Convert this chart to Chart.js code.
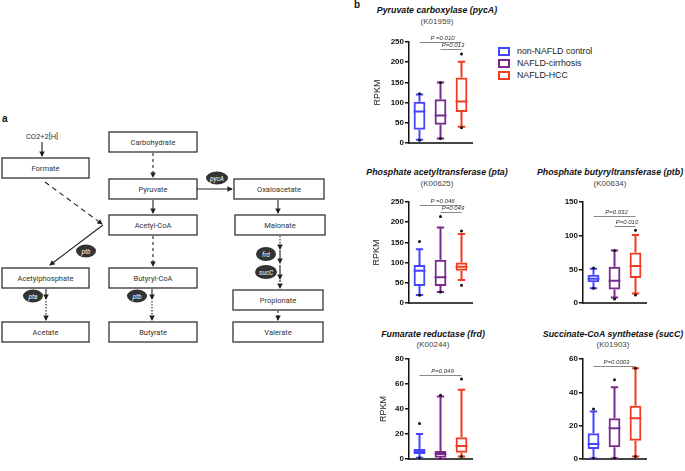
<!DOCTYPE html>
<html><head><meta charset="utf-8">
<script src="https://cdn.jsdelivr.net/npm/chart.js@4.4.1/dist/chart.umd.min.js"></script>
<style>
html,body{margin:0;padding:0}
body{width:685px;height:471px;background:#fff;position:relative;overflow:hidden;font-family:"Liberation Sans",Arial,sans-serif}
canvas{position:absolute}
.ttl{position:absolute;width:220px;text-align:center;font-size:8.8px;font-weight:bold;font-style:italic;color:#111;white-space:nowrap;line-height:10px}
.ko{position:absolute;width:220px;text-align:center;font-size:8px;color:#444;white-space:nowrap;line-height:10px}
.lg{position:absolute;left:498px;font-size:8.8px;color:#222;white-space:nowrap;line-height:10px}
.lg span.b{position:absolute;left:0;top:0;width:8px;height:5px;border:2px solid}
.lg span.t{position:absolute;left:19px;top:-1px}
.pl{position:absolute;font-weight:bold;font-size:10px;color:#111}
</style>
</head><body>

<svg width="345" height="471" style="position:absolute;left:0;top:0" font-family="Roboto, 'Liberation Sans', sans-serif">
<defs>
<marker id="ah" viewBox="0 0 6 6" refX="5" refY="3" markerWidth="5" markerHeight="5" orient="auto"><path d="M0,0 L6,3 L0,6 z" fill="#222"/></marker>
</defs>
<g fill="#fff" stroke="#333" stroke-width="1.3">
<rect x="2" y="158" width="87" height="20"/>
<rect x="109" y="132" width="88" height="20"/>
<rect x="109" y="179" width="88" height="20"/>
<rect x="109" y="215" width="88" height="20"/>
<rect x="2" y="268" width="87" height="20"/>
<rect x="109" y="268" width="88" height="20"/>
<rect x="2" y="322" width="87" height="20"/>
<rect x="109" y="322" width="88" height="20"/>
<rect x="234" y="179" width="90" height="20"/>
<rect x="235" y="215" width="90" height="20"/>
<rect x="233" y="290" width="90" height="20"/>
<rect x="233" y="322" width="90" height="20"/>
</g>
<g font-size="7.5" fill="#333" text-anchor="middle">
<text x="45.5" y="171">Formate</text>
<text x="153" y="145">Carbohydrate</text>
<text x="153" y="192">Pyruvate</text>
<text x="153" y="228">Acetyl-CoA</text>
<text x="45.5" y="281">Acetylphosphate</text>
<text x="153" y="281">Butyryl-CoA</text>
<text x="45.5" y="335">Acetate</text>
<text x="153" y="335">Butyrate</text>
<text x="279" y="192">Oxaloacetate</text>
<text x="280" y="228">Malonate</text>
<text x="278" y="303">Propionate</text>
<text x="278" y="335">Valerate</text>
<text x="42" y="139">CO2+2[H]</text>
</g>
<g stroke="#222" stroke-width="1.1" fill="none" marker-end="url(#ah)">
<line x1="42" y1="142" x2="42" y2="156"/>
<line x1="153" y1="153" x2="153" y2="177" stroke-dasharray="3,3"/>
<line x1="153" y1="200" x2="153" y2="213"/>
<line x1="153" y1="236" x2="153" y2="266" stroke-dasharray="3,3"/>
<line x1="45" y1="182" x2="102" y2="224" stroke-dasharray="5,4"/>
<line x1="103" y1="225" x2="50" y2="265"/>
<line x1="46" y1="289" x2="46" y2="299"/>
<line x1="46" y1="301" x2="46" y2="320" stroke-dasharray="1.5,1.5"/>
<line x1="152" y1="289" x2="152" y2="299"/>
<line x1="152" y1="301" x2="152" y2="320" stroke-dasharray="1.5,1.5"/>
<line x1="197" y1="189" x2="232" y2="189"/>
<line x1="278" y1="200" x2="278" y2="213"/>
<line x1="280" y1="236" x2="280" y2="249" stroke-dasharray="1.5,1.5"/>
<line x1="280" y1="250" x2="280" y2="263"/>
<line x1="280" y1="265" x2="280" y2="279"/>
<line x1="280" y1="280" x2="280" y2="288" stroke-dasharray="2,2"/>
<line x1="278" y1="311" x2="278" y2="320" stroke-dasharray="2,2"/>
</g>
<g fill="#333">
<ellipse cx="86" cy="251" rx="10" ry="6.5"/>
<ellipse cx="33" cy="296" rx="10" ry="6.5"/>
<ellipse cx="137" cy="296" rx="10" ry="6.5"/>
<ellipse cx="217" cy="178" rx="11" ry="6.5"/>
<ellipse cx="266" cy="254" rx="10" ry="7"/>
<ellipse cx="266" cy="272" rx="11" ry="7"/>
</g>
<g font-size="6.5" fill="#fff" font-style="italic" text-anchor="middle">
<text x="86" y="253.5">ptb</text>
<text x="33" y="298.5">pta</text>
<text x="137" y="298.5">ptb</text>
<text x="217" y="180.5">pycA</text>
<text x="266" y="256.5">frd</text>
<text x="266" y="274.5">sucC</text>
</g>
<line x1="346" y1="22" x2="346" y2="467" stroke="#bbb" stroke-width="1" stroke-dasharray="1,1"/>
</svg>
<div class="pl" style="left:2px;top:113px">a</div>
<div class="pl" style="left:354px;top:-1px">b</div>

<div class="ttl" style="left:327px;top:5px">Pyruvate carboxylase (pycA)</div>
<div class="ko" style="left:327px;top:17px">(K01959)</div>
<div class="ttl" style="left:327px;top:167px">Phosphate acetyltransferase (pta)</div>
<div class="ko" style="left:327px;top:179px">(K00625)</div>
<div class="ttl" style="left:500px;top:167px">Phosphate butyryltransferase (ptb)</div>
<div class="ko" style="left:500px;top:179px">(K00634)</div>
<div class="ttl" style="left:323px;top:329px">Fumarate reductase (frd)</div>
<div class="ko" style="left:323px;top:340px">(K00244)</div>
<div class="ttl" style="left:503px;top:329px">Succinate-CoA synthetase (sucC)</div>
<div class="ko" style="left:503px;top:340px">(K01903)</div>

<div class="lg" style="top:47px"><span class="b" style="border-color:#4545ff"></span><span class="t">non-NAFLD control</span></div>
<div class="lg" style="top:59px"><span class="b" style="border-color:#7a2a8e"></span><span class="t">NAFLD-cirrhosis</span></div>
<div class="lg" style="top:71px"><span class="b" style="border-color:#f03c22"></span><span class="t">NAFLD-HCC</span></div>

<canvas id="c1" width="116" height="128" style="left:360px;top:28px"></canvas>
<canvas id="c2" width="116" height="128" style="left:360px;top:188px"></canvas>
<canvas id="c3" width="116" height="128" style="left:534px;top:188px"></canvas>
<canvas id="c4" width="116" height="127" style="left:360px;top:345px"></canvas>
<canvas id="c5" width="116" height="127" style="left:534px;top:345px"></canvas>

<script>
// ---- data ----
const groups = ['non-NAFLD control', 'NAFLD-cirrhosis', 'NAFLD-HCC'];
const groupColors = ['#4545ff', '#7a2a8e', '#f03c22'];
// each group: [min whisker, Q1, median, Q3, max whisker]
const pycaBox = [[8, 33, 78, 102, 120], [11, 45, 68, 108, 150], [40, 77, 103, 162, 201]];
const pycaDots = [[122, 7], [150, 11], [220, 38]];
const pycaP = [[0, 2, 250, 'P =0.010'], [1, 2, 232, 'P=0.013']];
const ptaBox = [[20, 42, 80, 94, 133], [27, 42, 64, 107, 187], [57, 80, 90, 100, 171]];
const ptaDots = [[152, 19], [214, 27], [178, 44]];
const ptaP = [[0, 2, 243, 'P =0.046'], [1, 2, 225, 'P=0.049']];
const ptbBox = [[22, 31, 36, 42, 51], [8, 20, 33, 54, 78], [14, 37, 55, 75, 101]];
const ptbDots = [[52, 22], [78, 6], [108, 12]];
const ptbP = [[0, 2, 129, 'P=0.032'], [1, 2, 114, 'P=0.010']];
const frdBox = [[1, 4, 6, 8, 20], [0, 1, 4, 6.5, 50], [2, 5, 10.5, 17.5, 55.5]];
const frdDots = [[28.5, 1], [51, 0], [64, 2]];
const frdP = [[0, 2, 67, 'P=0.049']];
const succBox = [[0.5, 6, 9, 15.5, 28.5], [0.5, 7, 18.5, 24.5, 43], [1.5, 11, 24.5, 32, 54.5]];
const succDots = [[30, 0.5], [47.5, 0.5], [54.5, 1.5]];
const succP = [[0, 2, 56, 'P=0.0003']];
const yMaxes = {pyca: 250, pta: 250, ptb: 150, frd: 80, succ: 60};
const ySteps = {pyca: 50, pta: 50, ptb: 50, frd: 20, succ: 20};

// ---- plugin drawing whiskers, medians and P-value bars via scales ----
const boxPlugin = {
  id: 'boxExtras',
  beforeDatasetsDraw(chart) {
    const box = chart.options.plugins.boxExtras.box;
    const xs = chart.scales.x, ys = chart.scales.y, ctx = chart.ctx;
    const meta = chart.getDatasetMeta(0);
    ctx.save();
    ctx.lineWidth = 2;
    box.forEach((b, i) => {
      const x = xs.getPixelForValue(i);
      const w = meta.data[i].width;
      const cap = w * 0.62;
      ctx.strokeStyle = groupColors[i];
      ctx.beginPath();
      ctx.moveTo(x, ys.getPixelForValue(b[0])); ctx.lineTo(x, ys.getPixelForValue(b[1]));
      ctx.moveTo(x, ys.getPixelForValue(b[3])); ctx.lineTo(x, ys.getPixelForValue(b[4]));
      ctx.moveTo(x - cap / 2, ys.getPixelForValue(b[0])); ctx.lineTo(x + cap / 2, ys.getPixelForValue(b[0]));
      ctx.moveTo(x - cap / 2, ys.getPixelForValue(b[4])); ctx.lineTo(x + cap / 2, ys.getPixelForValue(b[4]));
      ctx.moveTo(x - w / 2, ys.getPixelForValue(b[2])); ctx.lineTo(x + w / 2, ys.getPixelForValue(b[2]));
      ctx.stroke();
    });
    ctx.restore();
  },
  afterDraw(chart) {
    const pv = chart.options.plugins.boxExtras.pvals;
    const xs = chart.scales.x, ys = chart.scales.y, ctx = chart.ctx;
    ctx.save();
    pv.forEach(p => {
      const x1 = xs.getPixelForValue(p[0]), x2 = xs.getPixelForValue(p[1]);
      const y = Math.round(ys.getPixelForValue(p[2])) + 0.5;
      ctx.strokeStyle = '#8a8a8a'; ctx.lineWidth = 1;
      ctx.beginPath(); ctx.moveTo(x1, y); ctx.lineTo(x2, y); ctx.stroke();
      ctx.fillStyle = '#333';
      ctx.font = 'italic 6px "Liberation Sans", Arial, sans-serif';
      ctx.textAlign = 'center'; ctx.textBaseline = 'bottom';
      ctx.fillText(p[3], (x1 + x2) / 2 + 2, y - 1.5);
    });
    ctx.restore();
  }
};

function makeChart(id, box, dots, pvals, yMax, step, showTitle, titlePad, bottomPad) {
  const dotData = [];
  dots.forEach((arr, i) => arr.forEach(v => dotData.push({x: groups[i], y: v})));
  return new Chart(document.getElementById(id), {
    type: 'bar',
    data: {
      labels: groups,
      datasets: [{
        data: box.map(b => [b[1], b[3]]),
        backgroundColor: 'rgba(255,255,255,0)',
        borderColor: groupColors,
        borderWidth: 2,
        borderSkipped: false,
        barPercentage: 0.56,
        categoryPercentage: 1,
        order: 2
      }, {
        type: 'line',
        data: dotData,
        showLine: false,
        pointRadius: 1.5,
        pointBackgroundColor: '#111',
        pointBorderWidth: 0,
        order: 1
      }]
    },
    options: {
      responsive: false,
      animation: false,
      events: [],
      layout: {padding: {top: 14, right: 2, bottom: bottomPad, left: 0}},
      plugins: {legend: {display: false}, tooltip: {enabled: false}, boxExtras: {box: box, pvals: pvals}},
      scales: {
        x: {
          grid: {display: false},
          ticks: {display: false},
          border: {display: true, color: '#444', width: 2}
        },
        y: {
          min: 0, max: yMax,
          afterFit: s => { s.width = 49; },
          ticks: {stepSize: step, color: '#111', padding: 1, font: {size: 8, weight: 'bold', family: '"Liberation Sans", Arial, sans-serif'}},
          grid: {drawOnChartArea: false, drawTicks: true, tickLength: 4, color: '#111', lineWidth: 1.5},
          border: {display: true, color: '#111', width: 1.5},
          title: {display: showTitle, text: 'RPKM', color: '#222', padding: {top: titlePad, bottom: 0}, font: {size: 9, family: '"Liberation Sans", Arial, sans-serif'}}
        }
      }
    },
    plugins: [boxPlugin]
  });
}

makeChart('c1', pycaBox, pycaDots, pycaP, yMaxes.pyca, ySteps.pyca, true, 12, 5);
makeChart('c2', ptaBox, ptaDots, ptaP, yMaxes.pta, ySteps.pta, true, 11, 5);
makeChart('c3', ptbBox, ptbDots, ptbP, yMaxes.ptb, ySteps.ptb, false, 0, 5);
makeChart('c4', frdBox, frdDots, frdP, yMaxes.frd, ySteps.frd, true, 18, 5);
makeChart('c5', succBox, succDots, succP, yMaxes.succ, ySteps.succ, false, 0, 5);
</script>
</body></html>
